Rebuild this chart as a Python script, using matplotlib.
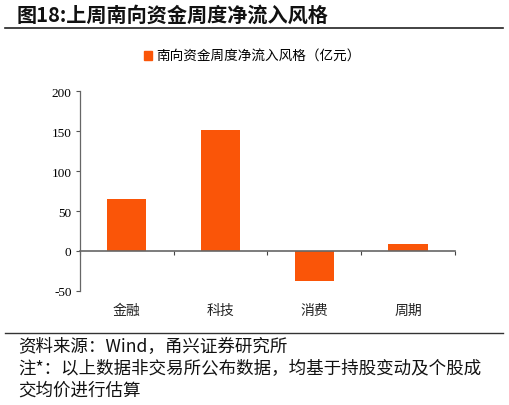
import matplotlib
matplotlib.use("Agg")
import matplotlib.pyplot as plt
from matplotlib.lines import Line2D
from matplotlib.patches import Patch

plt.rcParams['font.family'] = ['Noto Sans CJK SC', 'DejaVu Sans']

categories = ['金融', '科技', '消费', '周期']
values = [65, 152, -38, 9]
yticks = [-50, 0, 50, 100, 150, 200]
series_name = '南向资金周度净流入风格（亿元）'
title = '图18:上周南向资金周度净流入风格'
notes = ['资料来源：Wind，甬兴证券研究所',
         '注*：以上数据非交易所公布数据，均基于持股变动及个股成',
         '交均价进行估算']

bar_color = '#FA5508'

fig = plt.figure(figsize=(5.09, 4.06), dpi=100)
ax = fig.add_axes([0.157, 0.281, 0.737, 0.492])

x = list(range(len(categories)))
ax.bar(x, values, width=0.42, color=bar_color, zorder=2)

ax.set_xlim(-0.5, len(categories) - 0.5)
ax.set_ylim(-50, 200)
ax.set_yticks(yticks)
ax.set_yticklabels([str(v) for v in yticks], family='Liberation Serif', fontsize=9.5)
ax.tick_params(axis='y', direction='out', length=3, color='#555555', width=0.8, pad=3)

for s in ['top', 'right']:
    ax.spines[s].set_visible(False)
ax.spines['left'].set_color('#666666')
ax.spines['left'].set_linewidth(0.9)
ax.spines['bottom'].set_position(('data', 0))
ax.spines['bottom'].set_color('#666666')
ax.spines['bottom'].set_linewidth(1.2)
ax.spines['bottom'].set_zorder(3)

ax.set_xticks([i - 0.5 for i in range(len(categories) + 1)])
ax.set_xticklabels([])
ax.tick_params(axis='x', direction='out', length=3, color='#444444', width=0.8)

for i, c in enumerate(categories):
    ax.text(i, -0.095, c, transform=ax.get_xaxis_transform(), ha='center', va='center',
            fontsize=10, color='#222222')

ax.legend(handles=[Patch(color=bar_color, label=series_name)], loc='center',
          bbox_to_anchor=(252 / 509, 1 - 57 / 406), bbox_transform=fig.transFigure,
          frameon=False, fontsize=9.8, handlelength=0.6, handleheight=0.6,
          handletextpad=0.3)

fig.text(17 / 509, 1 - 15 / 406, title, fontsize=14.5, fontweight='bold',
         ha='left', va='center', color='#111111')
fig.add_artist(Line2D([5 / 509, 503 / 509], [1 - 29 / 406] * 2, color='#222222', lw=1.2))
fig.add_artist(Line2D([5 / 509, 503 / 509], [1 - 334 / 406] * 2, color='#333333', lw=1.0))

for yy, t in zip([347, 369, 391], notes):
    fig.text(18 / 509, 1 - yy / 406, t, fontsize=12.6, style='italic',
             ha='left', va='center', color='#111111')

fig.savefig('out.png', dpi=100)
